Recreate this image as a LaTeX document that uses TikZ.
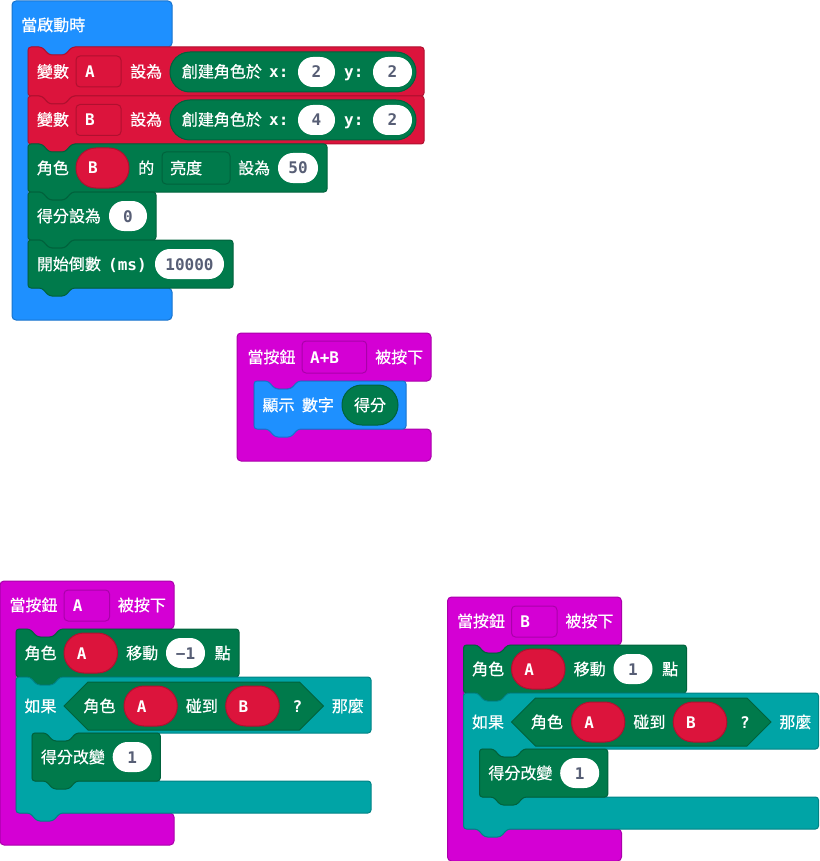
\documentclass[tikz,border=0pt]{standalone}
\usepackage{fontspec}
\newfontfamily\cjk{Noto Sans CJK TC}[FakeBold=0.6]
\newfontfamily\codefont{DejaVu Sans Mono}

% block palette
\definecolor{mcblue}{HTML}{1E90FF}
\definecolor{mcbluedk}{HTML}{1873CC}
\definecolor{mcred}{HTML}{DC143C}
\definecolor{mcreddk}{HTML}{B0102F}
\definecolor{mcgreen}{HTML}{007A4B}
\definecolor{mcgreendk}{HTML}{00623C}
\definecolor{mcmag}{HTML}{D400D4}
\definecolor{mcmagdk}{HTML}{AA00AA}
\definecolor{mcteal}{HTML}{00A4A6}
\definecolor{mctealdk}{HTML}{008385}
\definecolor{numcol}{HTML}{575E75}

\tikzset{
  blueblk/.style={fill=mcblue, draw=mcbluedk, line width=1pt},
  redblk/.style={fill=mcred, draw=mcreddk, line width=1pt},
  greenblk/.style={fill=mcgreen, draw=mcgreendk, line width=1pt},
  magblk/.style={fill=mcmag, draw=mcmagdk, line width=1pt},
  tealblk/.style={fill=mcteal, draw=mctealdk, line width=1pt},
  whitepill/.style={fill=white, draw=none},
  lbl/.style={anchor=base west, inner sep=0pt, text=white, font=\cjk\fontsize{16}{16}\selectfont},
  lblc/.style={anchor=base, inner sep=0pt, text=white, font=\cjk\fontsize{16}{16}\selectfont},
  code/.style={anchor=base west, inner sep=0pt, text=white, font=\codefont\bfseries\fontsize{16}{16}\selectfont},
  num/.style={anchor=base, inner sep=0pt, text=numcol, font=\codefont\bfseries\fontsize{16}{16}\selectfont},
}

% statement block: style, x0, y0, x1, y1 (notch on top, tab below)
\newcommand\stmt[5]{%
  \filldraw[#1, rounded corners=3] (#2,#3) -- (#2+14,#3) -- ++(7,8) -- ++(16,0) -- ++(7,-8)
    -- (#4,#3) -- (#4,#5) -- (#2+44,#5) -- ++(-7,8) -- ++(-16,0) -- ++(-7,-8) -- (#2,#5) -- cycle;}

% C-shaped container: style, x0, y0, x1, y1, inner x, inner top, inner bottom
\newcommand\cblock[8]{%
  \filldraw[#1, rounded corners=4] (#2,#3) -- (#4,#3) -- (#4,#7) -- (#6+44,#7) -- ++(-7,8)
    -- ++(-16,0) -- ++(-7,-8) -- (#6,#7) -- (#6,#8) -- (#4,#8) -- (#4,#5) -- (#2,#5) -- cycle;}

% rounded box: style, x0, y0, x1, y1, radius
\newcommand\rbox[6]{\filldraw[#1, rounded corners=#6] (#2,#3) rectangle (#4,#5);}

% "when button pressed" block with a move and an if/touch test
\newcommand\btnblock[3]{%
  \cblock{magblk}{0}{0}{174}{264}{16}{48}{232}
  \node[lbl] (#1when) at (9.3,30) {當按鈕};
  \rbox{magblk}{64}{9}{109.5}{40}{4}
  \node[code] (#1btn) at (72.7,30) {#2};
  \node[lbl] (#1press) at (117.7,30) {被按下};
  % move sprite A
  \stmt{greenblk}{16}{48}{239}{96}
  \node[lbl] (#1spr) at (24.5,78) {角色};
  \rbox{redblk}{64}{52}{117.5}{92}{19.9}
  \node[code] (#1sprA) at (76.7,78) {A};
  \node[lbl] (#1move) at (126,78) {移動};
  \rbox{whitepill}{166}{57}{205}{87}{14.9}
  \node[num] (#1steps) at (185.5,78) {#3};
  \node[lbl] (#1pts) at (214.5,78) {點};
  % if sprite A touches B
  \filldraw[tealblk, rounded corners=3] (16,96) -- (30,96) -- ++(7,8) -- ++(16,0) -- ++(7,-8)
    -- (371,96) -- (371,152) -- (76,152) -- ++(-7,8) -- ++(-16,0) -- ++(-7,-8) -- (32,152)
    -- (32,200) -- (371,200) -- (371,232) -- (60,232) -- ++(-7,8) -- ++(-16,0) -- ++(-7,-8)
    -- (16,232) -- cycle;
  \node[lbl] (#1if) at (24.3,131) {如果};
  \filldraw[greenblk] (64,125) -- (88,101) -- (299.5,101) -- (323.5,125) -- (299.5,149) -- (88,149) -- cycle;
  \node[lbl] (#1spr2) at (83.3,131) {角色};
  \rbox{redblk}{124}{105}{177.3}{145}{19.9}
  \node[code] (#1sprA2) at (136.7,131) {A};
  \node[lbl] (#1touch) at (185.7,131) {碰到};
  \rbox{redblk}{225.7}{105}{279.3}{145}{19.9}
  \node[code] (#1sprB2) at (238.4,131) {B};
  \node[code] (#1q) at (292.3,131) {?};
  \node[lbl] (#1then) at (331.7,131) {那麼};
  % change score by 1
  \stmt{greenblk}{32}{152}{160.3}{200}
  \node[lbl] (#1score) at (40.7,182) {得分改變};
  \rbox{whitepill}{112.7}{161}{151.7}{191}{14.9}
  \node[num] (#1inc) at (132.2,182) {1};
}

\begin{document}
\begin{tikzpicture}[x=1pt, y=-1pt]
\useasboundingbox (0,0) rectangle (819,861);

% ---------- on start ----------
\cblock{blueblk}{12}{1}{172}{320}{28}{47}{288}
\node[lbl] (start) at (21,31) {當啟動時};

\stmt{redblk}{28}{47}{424}{96}
\node[lbl] (setA) at (36.7,77.5) {變數};
\rbox{redblk}{76}{56}{121}{87}{4}
\node[code] (varA) at (85,77.5) {A};
\node[lbl] (setAto) at (130,77.5) {設為};
\rbox{greenblk}{170}{52}{416}{92}{19.9}
\node[lbl] (mkA) at (181.7,77.5) {創建角色於};
\node[code] (mkAx) at (269,77.5) {x:};
\rbox{whitepill}{298}{57}{335}{87}{14.9}
\node[num] (mkAxv) at (316.5,77.5) {2};
\node[code] (mkAy) at (344,77.5) {y:};
\rbox{whitepill}{373}{57}{412}{87}{14.9}
\node[num] (mkAyv) at (392.5,77.5) {2};

\stmt{redblk}{28}{96}{424}{144}
\node[lbl] (setB) at (36.7,125.5) {變數};
\rbox{redblk}{76}{104.5}{121}{135.5}{4}
\node[code] (varB) at (85,125.5) {B};
\node[lbl] (setBto) at (130,125.5) {設為};
\rbox{greenblk}{170}{100}{416}{140}{19.9}
\node[lbl] (mkB) at (181.7,125.5) {創建角色於};
\node[code] (mkBx) at (269,125.5) {x:};
\rbox{whitepill}{298}{105}{335}{135}{14.9}
\node[num] (mkBxv) at (316.5,125.5) {4};
\node[code] (mkBy) at (344,125.5) {y:};
\rbox{whitepill}{373}{105}{412}{135}{14.9}
\node[num] (mkByv) at (392.5,125.5) {2};

\stmt{greenblk}{28}{144}{327}{192}
\node[lbl] (bri) at (36.7,174) {角色};
\rbox{redblk}{76}{148}{129}{188}{19.9}
\node[code] (briB) at (88,174) {B};
\node[lbl] (briof) at (138,174) {的};
\rbox{greenblk}{162}{152}{230}{184}{4}
\node[lbl] (briprop) at (170,174) {亮度};
\node[lbl] (brito) at (238,174) {設為};
\rbox{whitepill}{278}{153}{318}{183}{14.9}
\node[num] (briv) at (298,174) {50};

\stmt{greenblk}{28}{192}{156}{240}
\node[lbl] (score0) at (36.7,222) {得分設為};
\rbox{whitepill}{109}{201}{147}{231}{14.9}
\node[num] (score0v) at (128,222) {0};

\stmt{greenblk}{28}{240}{233}{288}
\node[lbl] (cd) at (36.7,270) {開始倒數};
\node[code] (cdms) at (108,270) {(ms)};
\rbox{whitepill}{155}{249}{224}{279}{14.9}
\node[num] (cdv) at (189.5,270) {10000};

% ---------- on button A+B ----------
\cblock{magblk}{237}{333}{431}{461}{254}{381}{429}
\node[lbl] (abwhen) at (247.3,363) {當按鈕};
\rbox{magblk}{302}{341}{366.7}{373}{4}
\node[code] (abbtn) at (310,363) {A+B};
\node[lbl] (abpress) at (375,363) {被按下};
\stmt{blueblk}{254}{381}{406}{429}
\node[lbl] (show) at (262.3,411) {顯示};
\node[lbl] (shownum) at (301.7,411) {數字};
\rbox{greenblk}{342}{385}{398}{425}{19.9}
\node[lblc] (showscore) at (370,411) {得分};

% ---------- on button A / B ----------
\begin{scope}[shift={(0,581)}]
  \btnblock{a}{A}{−1}
\end{scope}
\begin{scope}[shift={(447.5,597)}]
  \btnblock{b}{B}{1}
\end{scope}
\end{tikzpicture}
\end{document}
